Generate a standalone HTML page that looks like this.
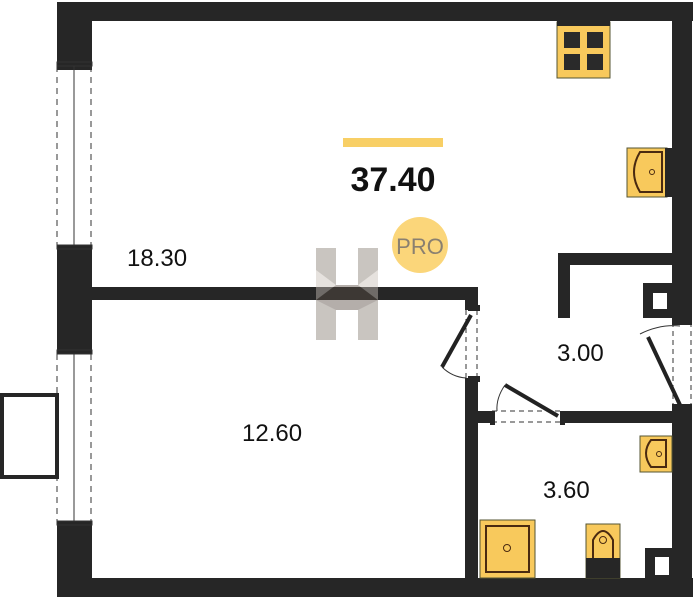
<!DOCTYPE html>
<html><head><meta charset="utf-8"><style>
html,body{margin:0;padding:0;background:#fff;}
svg{display:block}
text{font-family:"Liberation Sans",sans-serif;}
</style></head><body>
<svg width="693" height="600" viewBox="0 0 693 600" xmlns="http://www.w3.org/2000/svg">
<g fill="#262626">
<rect x="57" y="2" width="636" height="19"/>
<rect x="57" y="2" width="35" height="68"/>
<rect x="57" y="245" width="35" height="105"/>
<rect x="57" y="525" width="35" height="72"/>
<rect x="57" y="578" width="636" height="19"/>
<rect x="672" y="2" width="20" height="320"/>
<rect x="672" y="407" width="20" height="190"/>
<rect x="92" y="287" width="386" height="13"/>
<rect x="465" y="287" width="13" height="23"/>
<rect x="465" y="378" width="13" height="200"/>
<rect x="478" y="411" width="14" height="12"/>
<rect x="563" y="411" width="110" height="12"/>
<rect x="558" y="253" width="114" height="12"/>
<rect x="558" y="253" width="12" height="65"/>
<rect x="643" y="283" width="29" height="35"/>
<rect x="645" y="548" width="27" height="30"/>
</g>
<rect x="653" y="293" width="14" height="16" fill="#fff"/>
<rect x="655" y="557" width="14" height="18" fill="#fff"/>
<!-- windows -->
<g stroke="#333" fill="none">
<rect x="57" y="62" width="35" height="4" fill="#262626"/>
<rect x="57" y="245" width="35" height="4" fill="#262626"/>
<rect x="57" y="350" width="35" height="4" fill="#262626"/>
<rect x="57" y="521" width="35" height="4" fill="#262626"/>
<line x1="57" y1="66" x2="57" y2="245" stroke-dasharray="6,5"/>
<line x1="91" y1="66" x2="91" y2="245" stroke-dasharray="6,5"/>
<line x1="57" y1="354" x2="57" y2="521" stroke-dasharray="6,5"/>
<line x1="91" y1="354" x2="91" y2="521" stroke-dasharray="6,5"/>
<line x1="74" y1="66" x2="74" y2="245"/>
<line x1="74" y1="354" x2="74" y2="521"/>
</g>
<rect x="2" y="395" width="55" height="82" fill="none" stroke="#262626" stroke-width="4"/>
<!-- doors -->
<g stroke="#333" fill="none">
<line x1="466" y1="310" x2="466" y2="378" stroke-dasharray="5,4"/>
<line x1="477" y1="310" x2="477" y2="378" stroke-dasharray="5,4"/>
<line x1="471" y1="315" x2="442" y2="367" stroke="#222" stroke-width="4"/>
<path d="M442,367 Q452,377 466,378"/>
<line x1="492" y1="411" x2="563" y2="411" stroke-dasharray="5,4"/>
<line x1="492" y1="422" x2="563" y2="422" stroke-dasharray="5,4"/>
<line x1="558" y1="416" x2="505" y2="385" stroke="#222" stroke-width="4"/>
<path d="M505,385 Q496,398 497,411"/>
<line x1="673" y1="322" x2="673" y2="407" stroke-dasharray="5,4"/>
<line x1="691" y1="322" x2="691" y2="407" stroke-dasharray="5,4"/>
<line x1="680" y1="405" x2="648" y2="337" stroke="#222" stroke-width="4"/>
<path d="M640,334 Q660,324 680,326"/>
</g>
<g fill="#262626">
<rect x="468" y="305" width="12" height="6"/><rect x="468" y="376" width="12" height="6"/>
<rect x="490" y="411" width="5" height="14"/><rect x="560" y="411" width="5" height="14"/>
<rect x="672" y="320" width="20" height="5"/><rect x="672" y="404" width="20" height="5"/>
</g>
<!-- kitchen -->
<rect x="557" y="22" width="53" height="56" fill="#f8c95c" stroke="#553" stroke-width="1"/>
<rect x="557" y="21" width="53" height="5" fill="#262626"/>
<g fill="#2a2a2a"><rect x="564" y="32" width="16" height="16"/><rect x="587" y="32" width="16" height="16"/><rect x="564" y="54" width="16" height="16"/><rect x="587" y="54" width="16" height="16"/></g>
<rect x="627" y="148" width="40" height="49" fill="#f8c95c" stroke="#553"/>
<rect x="665" y="148" width="7" height="49" fill="#262626"/>
<path d="M640,152 L662,152 L662,192 L640,192 Q628,172 640,152Z" fill="none" stroke="#4a2a10" stroke-width="2"/>
<circle cx="652" cy="172" r="2.5" fill="none" stroke="#4a2a10"/>
<!-- bathroom -->
<rect x="640" y="436" width="32" height="36" fill="#f8c95c" stroke="#553"/>
<path d="M651,440 L666,440 L666,467 L651,467 Q641,453 651,440Z" fill="none" stroke="#4a2a10" stroke-width="2"/>
<circle cx="659" cy="454" r="2.5" fill="none" stroke="#4a2a10"/>
<rect x="480" y="520" width="55" height="58" fill="#f8c95c" stroke="#553"/>
<rect x="486" y="526" width="43" height="46" fill="none" stroke="#4a2a10" stroke-width="2"/>
<circle cx="507" cy="548" r="3.5" fill="none" stroke="#4a2a10"/>
<rect x="586" y="524" width="34" height="54" fill="#f8c95c" stroke="#553"/>
<rect x="586" y="558" width="34" height="20" fill="#262626"/>
<path d="M593,558 L593,540 Q603,522 613,540 L613,558" fill="none" stroke="#4a2a10" stroke-width="2"/>
<circle cx="603" cy="540" r="3.5" fill="none" stroke="#4a2a10"/>
<!-- logo -->
<g opacity="0.45">
<rect x="316" y="248" width="20" height="92" fill="#8a7f76"/>
<rect x="358" y="248" width="20" height="92" fill="#8a7f76"/>
<polygon points="336,285 358,285 378,300 358,310 336,310 316,300" fill="#5a4e45"/>
<polygon points="316,270 336,285 316,300" fill="#c8c0b8"/>
<polygon points="358,285 378,270 378,300" fill="#c8c0b8"/>
</g>
<!-- labels -->
<rect x="343" y="138" width="100" height="9" fill="#f8cf65"/>
<text x="393" y="191" font-size="34" font-weight="bold" text-anchor="middle" fill="#111">37.40</text>
<circle cx="420" cy="245" r="28" fill="#fbd67a"/>
<text x="420" y="254" font-size="22" text-anchor="middle" fill="#8a8070">PRO</text>
<g font-size="24" fill="#111">
<text x="127" y="266">18.30</text>
<text x="242" y="441">12.60</text>
<text x="557" y="361">3.00</text>
<text x="543" y="498">3.60</text>
</g>
</svg>
</body></html>
